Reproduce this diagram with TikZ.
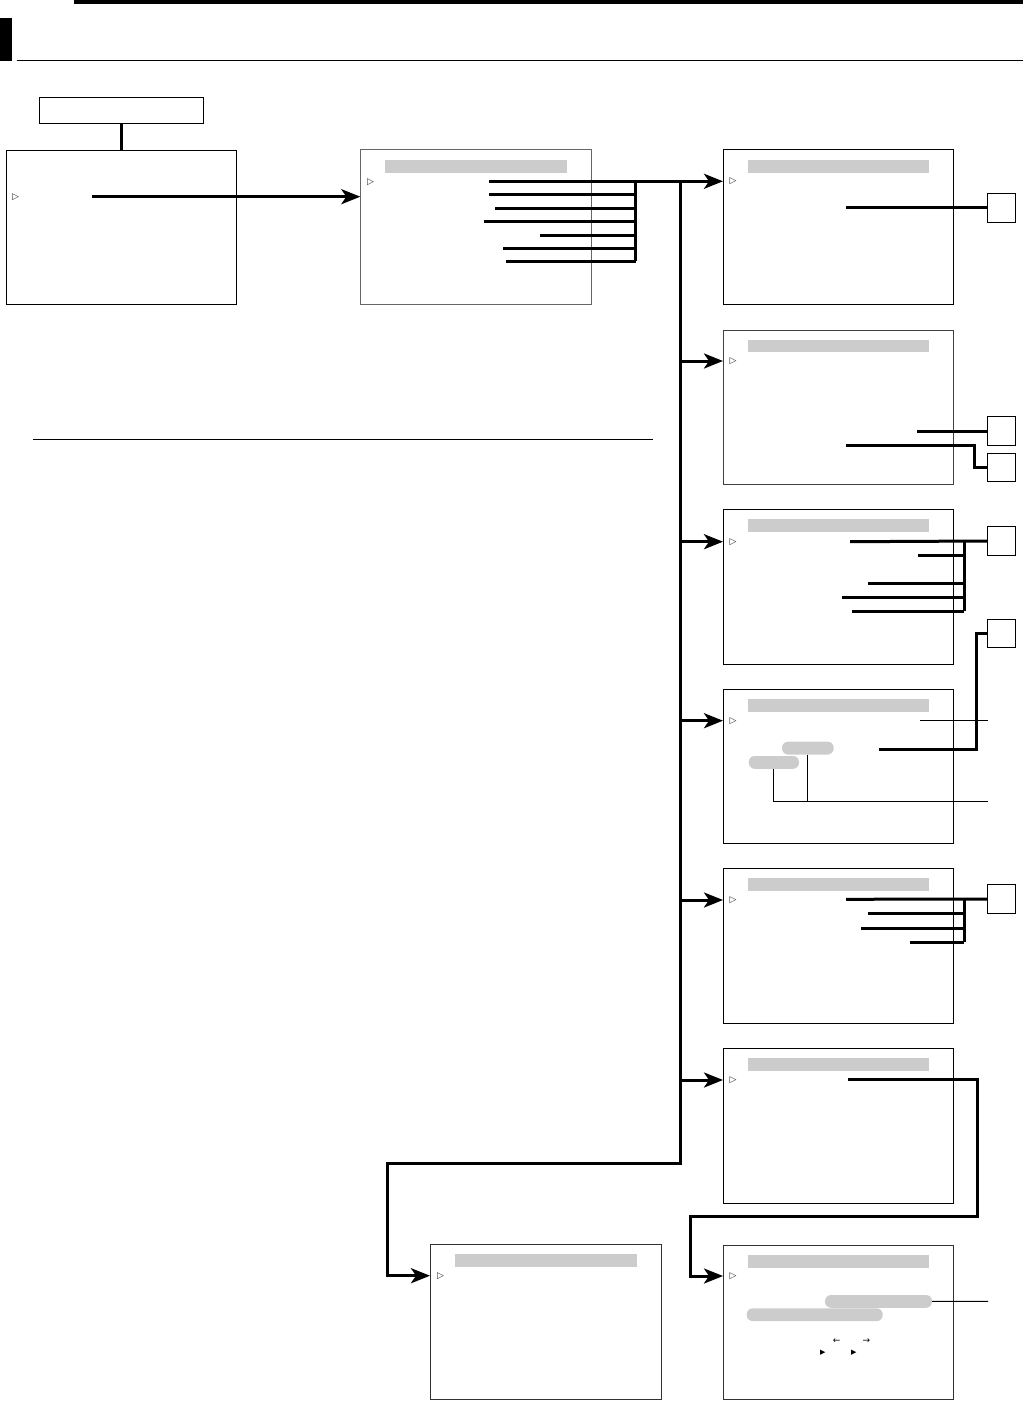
\documentclass[tikz,border=0pt]{standalone}
\usepackage{fontspec}
\newfontfamily\symfont{DejaVu Sans}
\usetikzlibrary{arrows.meta}
\begin{document}
\begin{tikzpicture}[x=1pt,y=-1pt,
 screen/.style={draw, line width=1pt, anchor=north west, inner sep=0pt, outer sep=0pt, minimum width=230pt, minimum height=154pt},
 bar/.style={fill=black!20, anchor=north west, inner sep=0pt, outer sep=0pt, minimum width=181pt, minimum height=12.7pt},
 pill/.style={fill=black!20, rounded corners=6pt, anchor=north west, inner sep=0pt, outer sep=0pt, minimum height=12.8pt},
 sq/.style={draw, line width=1pt, minimum size=28.5pt, inner sep=0pt, outer sep=0pt},
 bus/.style={line width=3pt},
 wire/.style={line width=1pt},
 arr/.style={line width=3pt, -{Stealth[length=19pt,width=15pt,inset=5pt]}},
 cursor/.style={font=\symfont\fontsize{9}{9}\selectfont, text=black!85, inner sep=0pt},
 glyph/.style={font=\symfont\fontsize{9}{9}\selectfont, inner sep=0pt},
]
\useasboundingbox (0,0) rectangle (1023,1415);
% page header
\fill (74,0) rectangle (1023,4.3);
\fill (0,18) rectangle (12,61);
\draw[wire] (16.7,60.3) -- (1023,60.3);
\coordinate (hl1) at (33.3,439.3);
\coordinate (hl2) at (652.7,439.3);
\draw[wire] (hl1) -- (hl2);

% boxes
\node[draw, line width=1pt, anchor=north west, minimum width=164pt, minimum height=26pt, inner sep=0pt, outer sep=0pt] (title) at (39.3,97.3) {};
\node[screen] (A) at (6.3,150.3) {};
\node[screen, draw=black!60, minimum width=231pt] (B) at (360.3,150) {};
\node[screen] (C) at (723,150) {};
\node[screen, draw=black!75] (D) at (723,330) {};
\node[screen, minimum height=155pt] (E) at (723,509) {};
\node[screen] (F) at (723,689) {};
\node[screen, minimum height=155pt] (G) at (723,868) {};
\node[screen, minimum height=155pt] (H) at (723,1048) {};
\node[screen, draw=black!80, minimum width=231pt, minimum height=155pt] (I) at (430,1244) {};
\node[screen, draw=black!80] (J) at (723,1245.7) {};

% title bars
\node[bar, minimum width=182pt] (Bbar) at (385,160) {};
\node[bar] (Cbar) at (748,160) {};
\node[bar] (Dbar) at (748,339.5) {};
\node[bar] (Ebar) at (748,519) {};
\node[bar] (Fbar) at (748,699) {};
\node[bar] (Gbar) at (748,878.3) {};
\node[bar] (Hbar) at (748,1058) {};
\node[bar, minimum width=182pt] (Ibar) at (455,1254) {};
\node[bar] (Jbar) at (748,1255) {};

% cursors
\node[cursor] (cA) at (15.6,196.7) {▷};
\node[cursor] (cB) at (370.5,181.7) {▷};
\node[cursor] (cC) at (733,181.5) {▷};
\node[cursor] (cD) at (733,361) {▷};
\node[cursor] (cE) at (733,541.7) {▷};
\node[cursor] (cF) at (733,720.7) {▷};
\node[cursor] (cG) at (733,900) {▷};
\node[cursor] (cH) at (733,1080) {▷};
\node[cursor] (cI) at (440.5,1275.7) {▷};
\node[cursor] (cJ) at (733,1276.3) {▷};

% squares
\node[sq] (S1) at (1001.3,208) {};
\node[sq] (S2) at (1001.3,431) {};
\node[sq] (S3) at (1001.3,467.5) {};
\node[sq] (S4) at (1001.3,541) {};
\node[sq] (S5) at (1001.3,633.5) {};
\node[sq] (S6) at (1001.3,899) {};

% pills
\node[pill, minimum width=51.7pt] (P1) at (782,741.7) {};
\node[pill, minimum width=50.3pt] (P2) at (748.7,756) {};
\node[pill, minimum width=107pt] (Q1) at (825,1295) {};
\node[pill, minimum width=136pt] (Q2) at (746.7,1308.3) {};

% small glyphs in J
\node[glyph] (la) at (836.7,1341.3) {←};
\node[glyph] (ra) at (866.3,1341.3) {→};
\node[glyph, font=\symfont\fontsize{7}{7}\selectfont] (t1) at (822.7,1353) {▶};
\node[glyph, font=\symfont\fontsize{7}{7}\selectfont] (t2) at (853.7,1353) {▶};

% title to A
\draw[bus] (title.south) -- (title.south |- A.north);
% A to B
\coordinate (a1) at (92,196.7);
\draw[arr] (a1) -- (a1 -| B.west);

% B lines
\coordinate (b1) at (489,181.3);
\coordinate (bv) at (635.5,181.3);
\draw[arr] (b1) -- (b1 -| C.west);
\foreach \n/\x/\y in {b2/489/195, b3/495/208.3, b4/484/221.3, b5/540/235.3, b6/503/248.3, b7/506/261.3}{
  \coordinate (\n) at (\x,\y);
  \draw[bus] (\n) -- (\n -| bv);
}
\draw[bus] (bv) -- (bv |- b7);

% trunk
\coordinate (tr) at (680.5,181.3);
\coordinate (il) at (387.5,1163.3);
\coordinate (ild) at (387.5,1275.7);
\draw[arr, line join=miter] (tr) |- (il) -- (ild) -- (ild -| I.west);
\foreach \b/\y in {D/361, E/541.7, F/720.7, G/900, H/1080}{
  \coordinate (j\b) at (680.5,\y);
  \draw[arr] (j\b) -- (j\b -| \b.west);
}

% C
\coordinate (c1) at (846,208);
\draw[bus] (c1) -- (S1.west);

% D
\coordinate (d1) at (917,431);
\coordinate (d2) at (846,445);
\coordinate (d2k) at (974,467.5);
\draw[bus] (d1) -- (S2.west);
\draw[bus, line join=miter] (d2) -| (d2k) -- (S3.west);

% E
\coordinate (e1) at (850,541.7);
\coordinate (ev) at (964.3,541.7);
\draw[bus] (e1) -- (S4.west);
\foreach \n/\x/\y in {e2/918/555.3, e3/868/583.3, e4/842/597.3, e5/852/611.3}{
  \coordinate (\n) at (\x,\y);
  \draw[bus] (\n) -- (\n -| ev);
}
\draw[bus] (ev) -- (ev |- e5);
\coordinate (e6) at (879,749);
\coordinate (e6k) at (976.7,633.5);
\draw[bus, line join=miter] (S5.west) -- (e6k) |- (e6);

% F
\coordinate (f1) at (920,720.3);
\coordinate (fe1) at (988,720.3);
\draw[wire] (f1) -- (fe1);
\coordinate (fe2) at (988,801);
\draw[wire] (P2.south) |- (fe2);
\draw[wire] (P1.south) -- (P1.south |- fe2);

% G
\coordinate (g1) at (846,899.3);
\coordinate (gv) at (964.3,899.3);
\draw[bus] (g1) -- (S6.west);
\foreach \n/\x/\y in {g2/868/913.3, g3/861/928.3, g4/910/942.3}{
  \coordinate (\n) at (\x,\y);
  \draw[bus] (\n) -- (\n -| gv);
}
\draw[bus] (gv) -- (gv |- g4);

% H to J
\coordinate (h1) at (848,1079.3);
\coordinate (hk1) at (977.5,1216.3);
\coordinate (hk2) at (690.4,1276);
\draw[arr, line join=miter] (h1) -| (hk1) -| (hk2) -- (hk2 -| J.west);

% J
\coordinate (je) at (988,1301.3);
\draw[wire] (Q1.east) -- (je);
\end{tikzpicture}
\end{document}
